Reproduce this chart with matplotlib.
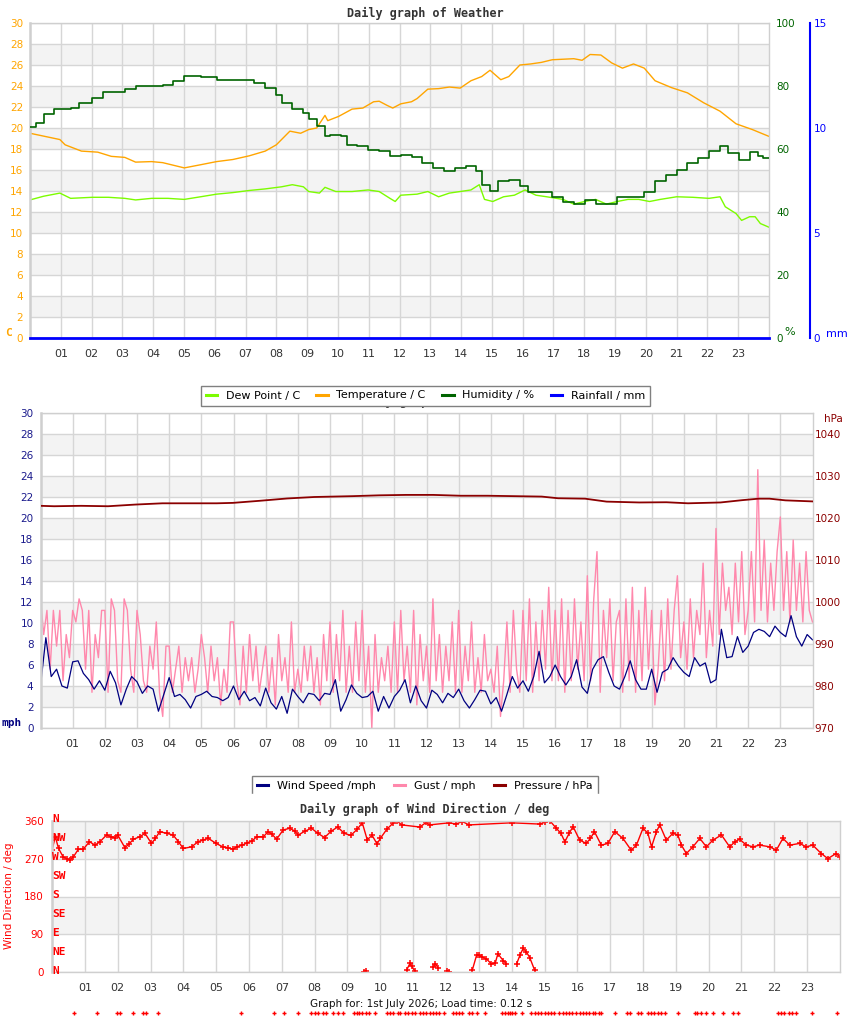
import numpy as np
import matplotlib
matplotlib.use('Agg')
import matplotlib.pyplot as plt
from matplotlib.lines import Line2D
from matplotlib.patches import Rectangle

W, H = 850, 1017
GRID = '#d6d6d6'
BAND = '#f3f3f3'
FRAME = '#cfcfcf'
MONO = 'DejaVu Sans Mono'

HOURS = list(range(1, 24))
HOUR_LABELS = ['%02d' % h for h in HOURS]

# ---------------- weather panel ----------------
temp_hours = [0, 0.97, 1.14, 1.67, 2.2, 2.64, 3.08, 3.43, 3.95, 4.31, 5.01, 5.54, 6.06, 6.59,
              7.12, 7.64, 8.0, 8.44, 8.79, 9.05, 9.31, 9.58, 9.67, 10.02, 10.46, 10.81, 11.16,
              11.34, 11.6, 11.78, 12.04, 12.39, 12.57, 12.92, 13.27, 13.62, 13.97, 14.32, 14.67,
              14.94, 15.29, 15.55, 15.91, 16.26, 16.61, 16.96, 17.31, 17.66, 17.93, 18.19, 18.54,
              18.89, 19.24, 19.6, 19.95, 20.3, 20.83, 21.35, 21.88, 22.41, 22.93, 23.46, 24.0]
temp_c = [19.5, 18.9, 18.4, 17.8, 17.7, 17.3, 17.2, 16.75, 16.8, 16.7, 16.2, 16.5, 16.8, 17.0,
          17.35, 17.8, 18.4, 19.7, 19.5, 19.85, 20.0, 21.2, 20.7, 21.1, 21.8, 21.9, 22.5,
          22.55, 22.15, 21.9, 22.3, 22.5, 22.8, 23.7, 23.75, 23.9, 23.8, 24.5, 24.9,
          25.5, 24.6, 24.9, 26.0, 26.1, 26.25, 26.5, 26.55, 26.6, 26.45, 27.0, 26.95,
          26.2, 25.7, 26.1, 25.7, 24.5, 23.85, 23.35, 22.4, 21.6, 20.4, 19.85, 19.2]

dew_hours = [0, 0.44, 0.97, 1.32, 2.02, 2.55, 3.08, 3.43, 3.95, 4.48, 5.01, 5.54, 6.06, 6.59,
             7.12, 7.64, 8.17, 8.52, 8.88, 9.05, 9.4, 9.58, 9.93, 10.46, 10.98, 11.34, 11.69,
             11.86, 12.04, 12.57, 12.92, 13.27, 13.62, 13.97, 14.32, 14.59, 14.76, 15.03, 15.38,
             15.73, 16.08, 16.43, 16.78, 17.31, 17.66, 18.01, 18.37, 18.72, 19.07, 19.42, 19.77,
             20.12, 20.47, 21.0, 21.53, 22.05, 22.41, 22.58, 22.93, 23.11, 23.37, 23.55, 23.72, 24.0]
dew_c = [13.15, 13.5, 13.8, 13.3, 13.4, 13.4, 13.3, 13.15, 13.3, 13.3, 13.2, 13.45, 13.7, 13.85,
         14.05, 14.2, 14.4, 14.6, 14.4, 13.95, 13.8, 14.35, 13.95, 13.95, 14.1, 13.95, 13.3,
         13.0, 13.6, 13.7, 13.95, 13.45, 13.8, 13.95, 14.1, 14.6, 13.2, 13.0, 13.45,
         13.6, 14.1, 13.6, 13.45, 13.2, 12.75, 13.0, 13.2, 12.75, 13.0, 13.2, 13.2,
         13.0, 13.2, 13.45, 13.4, 13.3, 13.45, 12.5, 11.85, 11.2, 11.55, 11.55, 10.9, 10.55]

hum_hours = [0, 0.18, 0.44, 0.79, 1.32, 1.58, 2.02, 2.37, 3.08, 3.43, 4.31, 4.66, 5.01, 5.54,
             6.06, 7.03, 7.29, 7.64, 7.99, 8.17, 8.52, 8.88, 9.05, 9.31, 9.58, 9.75, 10.11,
             10.28, 10.63, 10.98, 11.34, 11.69, 12.04, 12.39, 12.74, 13.09, 13.45, 13.8, 14.15,
             14.5, 14.68, 14.94, 15.2, 15.56, 15.91, 16.17, 16.61, 16.96, 17.31, 17.66, 18.01,
             18.37, 18.72, 19.07, 19.6, 19.95, 20.3, 20.65, 21.0, 21.35, 21.71, 22.05, 22.41,
             22.67, 23.02, 23.37, 23.64, 23.81, 24.0]
hum_pct = [67.0, 68.3, 71.0, 72.6, 73.1, 74.7, 76.3, 78.1, 79.2, 80.0, 80.2, 81.6, 83.2, 82.7,
           82.0, 82.0, 81.1, 79.5, 77.3, 74.7, 72.6, 71.5, 69.4, 67.2, 64.0, 64.6, 64.0,
           61.4, 60.9, 59.8, 59.3, 57.7, 58.2, 57.5, 55.5, 53.9, 52.9, 53.9, 54.5,
           52.9, 48.6, 46.8, 49.7, 50.0, 48.1, 46.2, 46.2, 44.9, 43.3, 42.6, 43.8,
           42.6, 42.6, 44.7, 44.9, 46.2, 49.7, 51.8, 53.4, 55.5, 57.1, 59.3, 60.9,
           58.7, 56.6, 58.9, 57.7, 57.0, 57.0]

rain_hours = [0, 24]
rain_mm = [0, 0]

# ---------------- wind panel ----------------
# wind speed, one row per hour, 10 minute readings
wind_mph = [
    4.0, 8.6, 4.9, 5.6, 4.0, 3.8,
    6.3, 6.4, 5.2, 4.6, 3.7, 4.5,
    3.6, 5.4, 4.3, 2.2, 3.7, 4.9,
    4.4, 3.3, 4.0, 3.7, 1.6, 3.2,
    4.8, 3.0, 3.2, 2.7, 1.9, 3.0,
    3.2, 3.5, 3.0, 2.9, 2.6, 2.9,
    4.0, 2.7, 3.5, 2.6, 2.9, 2.1,
    3.8, 2.4, 1.8, 3.0, 1.4, 3.7,
    3.0, 2.4, 3.3, 3.2, 2.6, 3.3,
    3.2, 4.6, 1.6, 2.7, 4.1, 3.3,
    2.9, 3.0, 3.5, 1.6, 3.0, 1.9,
    3.0, 3.6, 4.6, 2.4, 4.0, 2.6,
    1.9, 3.6, 3.2, 2.4, 3.3, 2.9,
    3.7, 2.6, 1.9, 2.7, 3.6, 3.5,
    2.3, 2.9, 1.6, 3.2, 4.9, 3.8,
    4.5, 3.5, 4.9, 7.3, 4.3, 4.9,
    6.0, 4.9, 4.1, 4.9, 6.5, 3.9,
    3.3, 5.6, 6.5, 6.8, 5.3, 4.0,
    3.7, 4.9, 6.4, 4.6, 3.7, 3.7,
    5.6, 3.4, 5.3, 5.6, 6.7, 5.9,
    5.3, 4.9, 6.7, 5.9, 6.2, 4.3,
    4.6, 9.4, 6.7, 6.8, 8.7, 7.2,
    7.8, 9.1, 9.4, 9.2, 8.7, 9.7,
    9.1, 8.7, 10.7, 8.7, 7.8, 8.9,
    8.4,
]

# gusts, one row per hour, 6 minute readings
gust_mph = [
    12.3, 8.9, 11.2, 5.6, 11.2, 7.8, 11.2, 4.5, 8.9, 6.7,
    11.2, 10.1, 12.3, 11.2, 5.6, 11.2, 3.4, 8.9, 6.7, 11.2,
    11.2, 3.4, 12.3, 11.2, 4.5, 3.4, 12.3, 11.2, 5.6, 3.4,
    11.2, 8.9, 4.5, 3.4, 7.8, 5.6, 10.1, 3.4, 1.1, 7.8,
    7.8, 3.4, 5.6, 7.8, 3.4, 6.7, 4.5, 6.7, 3.4, 5.6,
    8.9, 6.7, 3.4, 7.8, 4.5, 6.7, 2.2, 5.6, 3.4, 10.1,
    10.1, 4.5, 2.2, 7.8, 3.4, 8.9, 4.5, 7.8, 3.4, 5.6,
    7.8, 3.4, 6.7, 2.2, 8.9, 4.5, 6.7, 3.4, 10.1, 3.4,
    5.6, 3.4, 7.8, 4.5, 7.8, 3.4, 6.7, 2.2, 8.9, 4.5,
    10.1, 3.4, 8.9, 4.5, 11.2, 3.4, 7.8, 3.4, 10.1, 4.5,
    11.2, 3.4, 7.8, 0.0, 8.9, 3.4, 6.7, 4.5, 7.8, 3.4,
    10.1, 3.4, 11.2, 4.5, 7.8, 3.4, 11.2, 2.2, 8.9, 4.5,
    7.8, 3.4, 12.3, 4.5, 8.9, 3.4, 7.8, 4.5, 10.1, 3.4,
    11.2, 3.4, 7.8, 4.5, 10.1, 3.4, 6.7, 3.4, 8.9, 4.5,
    5.6, 3.4, 7.8, 1.1, 4.5, 10.1, 3.4, 11.2, 5.6, 3.4,
    11.2, 4.5, 12.3, 3.4, 10.1, 4.5, 11.2, 5.6, 13.4, 4.5,
    11.2, 4.5, 12.3, 3.4, 11.2, 4.5, 12.3, 5.6, 10.1, 4.5,
    14.5, 4.5, 12.3, 16.8, 3.4, 11.2, 6.7, 12.3, 4.5, 10.1,
    11.2, 3.4, 12.3, 4.5, 13.4, 3.4, 11.2, 4.5, 13.4, 5.6,
    11.2, 2.2, 5.6, 11.2, 4.5, 12.3, 5.6, 11.2, 14.5, 6.7,
    10.1, 5.6, 12.3, 6.7, 11.2, 8.9, 15.7, 6.7, 11.2, 7.8,
    19.0, 8.9, 15.7, 11.2, 13.4, 8.9, 15.7, 10.1, 16.8, 8.9,
    11.2, 16.8, 10.1, 24.6, 11.2, 17.9, 10.1, 15.7, 11.2, 16.8,
    20.1, 11.2, 16.8, 10.1, 17.9, 11.2, 15.7, 10.1, 16.8, 11.2,
    10.1,
]

pres_hours = [0, 0.42, 1.26, 2.1, 2.95, 3.79, 4.63, 5.48, 5.98, 6.82, 7.67, 8.51, 9.69, 10.53,
              11.37, 12.21, 13.06, 13.9, 14.74, 15.58, 16.09, 16.93, 17.6, 18.61, 19.46, 20.13,
              21.14, 21.82, 22.32, 22.66, 23.16, 24.0]
pres_hpa = [1022.9, 1022.8, 1022.9, 1022.8, 1023.2, 1023.5, 1023.5, 1023.5, 1023.6, 1024.1,
            1024.65, 1025.0, 1025.2, 1025.4, 1025.5, 1025.5, 1025.3, 1025.3, 1025.2, 1025.1,
            1024.7, 1024.6, 1023.9, 1023.7, 1023.75, 1023.5, 1023.7, 1024.25, 1024.6, 1024.6,
            1024.2, 1023.95]

# ---------------- wind direction panel ----------------
dir_hours = [0.0, 0.1, 0.2, 0.34, 0.45, 0.55, 0.65, 0.8, 0.95, 1.14, 1.31, 1.46, 1.66, 1.8,
             1.92, 2.0, 2.22, 2.35, 2.48, 2.68, 2.83, 3.03, 3.15, 3.28, 3.49, 3.69, 3.85, 4.0,
             4.25, 4.45, 4.6, 4.76, 5.0, 5.2, 5.35, 5.52, 5.62, 5.8, 5.93, 6.1, 6.23, 6.44,
             6.58, 6.7, 6.84, 7.04, 7.24, 7.4, 7.5, 7.7, 7.9, 8.1, 8.3, 8.5, 8.7, 8.9, 9.1,
             9.3, 9.45, 9.6, 9.75, 9.9, 10.0, 10.2, 10.4, 10.5, 10.65, 11.2, 11.4, 11.5, 12.1,
             12.3, 12.5, 12.7, 14.0, 14.85, 15.0, 15.16, 15.36, 15.5, 15.62, 15.75, 15.87,
             16.07, 16.27, 16.4, 16.52, 16.73, 16.93, 17.14, 17.39, 17.64, 17.8, 18.0, 18.15,
             18.26, 18.41, 18.51, 18.71, 18.91, 19.06, 19.17, 19.32, 19.52, 19.73, 19.93,
             20.13, 20.39, 20.64, 20.8, 20.94, 21.15, 21.35, 21.55, 21.86, 22.06, 22.26,
             22.47, 22.77, 22.97, 23.17, 23.43, 23.63, 23.88, 24.0]
dir_deg = [290, 322, 294, 274, 270, 267, 274, 292, 292, 310, 302, 310, 326, 322,
           320, 326, 296, 305, 316, 322, 330, 306, 318, 334, 330, 326, 310, 294,
           298, 310, 314, 318, 306, 298, 296, 292, 298, 302, 307, 312, 322, 322,
           334, 328, 316, 338, 342, 335, 326, 335, 342, 330, 320, 335, 345, 330, 325,
           340, 355, 315, 325, 305, 318, 340, 355, 360, 350, 345, 356, 350, 355,
           352, 358, 350, 355, 352, 356, 360, 342, 330, 310, 330, 346,
           314, 306, 318, 334, 302, 306, 334, 318, 290, 302, 342, 330,
           298, 334, 350, 314, 330, 326, 302, 282, 298, 318, 298,
           314, 326, 298, 310, 316, 302, 298, 302, 298, 290, 318,
           302, 306, 298, 302, 282, 270, 282, 274]

# readings just past north, wrapped round to the bottom of the scale
wrap_hours = [9.5, 9.55, np.nan, 10.8, 10.9, 10.95, 11.05, np.nan, 11.6, 11.68, 11.76, np.nan,
              12.03, 12.08, np.nan, 12.8, 12.93, 13.0, 13.1, 13.23, 13.38, 13.5, 13.58, 13.74,
              13.84, np.nan, 14.15, 14.25, 14.35, 14.45, 14.55, 14.7]
wrap_deg = [0, 3, np.nan, 5, 21, 15, 3, np.nan, 12, 20, 10, np.nan,
            2, 0, np.nan, 5, 40, 41, 36, 32, 20, 22, 44, 28,
            20, np.nan, 20, 40, 57, 48, 35, 5]

# calm readings, drawn below the chart
calm_hours = [0.67, 1.38, 1.97, 2.07, 2.46, 2.78, 2.85, 3.24, 5.77, 6.76, 7.07, 7.5, 7.9, 8.0,
              8.1, 8.25, 8.35, 8.55, 8.7, 8.85, 9.2, 9.3, 9.35, 9.45, 9.55, 9.65, 9.85, 10.2,
              10.3, 10.4, 10.55, 10.6, 10.75, 10.85, 10.95, 11.05, 11.2, 11.3, 11.4, 11.5, 11.6,
              11.7, 11.8, 11.95, 12.2, 12.3, 12.4, 12.5, 12.7, 12.8, 12.95, 13.2, 13.7, 13.8,
              13.9, 13.95, 14.0, 14.1, 14.3, 14.6, 14.7, 14.8, 14.9, 15.0, 15.1, 15.2, 15.3,
              15.45, 15.55, 15.65, 15.75, 15.85, 15.97, 16.07, 16.17, 16.27, 16.37, 16.47,
              16.55, 16.65, 16.73, 17.14, 17.5, 17.6, 17.85, 17.95, 18.15, 18.25, 18.35, 18.45,
              18.55, 18.66, 19.07, 19.58, 19.65, 19.78, 19.93, 20.13, 20.43, 20.73, 20.88,
              22.1, 22.2, 22.3, 22.45, 22.55, 22.67, 23.15, 23.9]
CALM_DEG = -97

COMPASS = ['N', 'NE', 'E', 'SE', 'S', 'SW', 'W', 'NW', 'N']


def rect(x0, y0, x1, y1):
    return [x0 / W, 1 - y1 / H, (x1 - x0) / W, (y1 - y0) / H]


def fx(x):
    return x / W


def fy(y):
    return 1 - y / H


def base_axes(box, ymax, ystep, bands, color, ypad):
    ax = fig.add_axes(rect(*box))
    ax.set_xlim(0, 24)
    ax.set_ylim(0, ymax)
    for lo, hi in bands:
        ax.axhspan(lo, hi, color=BAND, lw=0, zorder=0)
    ax.set_xticks(HOURS, HOUR_LABELS)
    ax.set_yticks(np.arange(0, ymax + 1, ystep))
    ax.grid(True, color=GRID, lw=1)
    ax.set_axisbelow(True)
    ax.tick_params(length=0, labelsize=7.5)
    ax.tick_params(axis='x', pad=8, labelcolor='#333333', labelsize=8)
    ax.tick_params(axis='y', labelcolor=color, pad=ypad)
    for s in ax.spines.values():
        s.set_color(FRAME)
        s.set_linewidth(1)
    ax.spines['left'].set_linewidth(1.8)
    return ax


def twin(ax, lo, hi, ticks, color, pad):
    t = ax.twinx()
    t.set_ylim(lo, hi)
    t.set_yticks(ticks)
    t.tick_params(length=0, labelsize=7.5, labelcolor=color, pad=pad)
    for s in t.spines.values():
        s.set_visible(False)
    return t


fig = plt.figure(figsize=(W / 100, H / 100), dpi=100)

# ---- panel 1: weather ----
ax1 = base_axes((30, 23, 769, 338), 30, 2, [(lo, lo + 2) for lo in range(2, 30, 4)], '#ffa500', 5)
ax_h = twin(ax1, 0, 100, range(0, 101, 20), '#006400', 5)
ax_r = twin(ax1, 0, 15, [0, 5, 10, 15], '#0000ff', 2.5)
ax_r.spines['right'].set_visible(True)
ax_r.spines['right'].set_position(('outward', 29.5))   # points, = 41 px
ax_r.spines['right'].set_color('#0000ff')
ax_r.spines['right'].set_linewidth(1.5)

ax_h.plot(hum_hours, hum_pct, color='#006400', lw=1.2, drawstyle='steps-post')
ax1.plot(temp_hours, temp_c, color='#ffa500', lw=1)
ax1.plot(dew_hours, dew_c, color='#7cfc00', lw=1)
ax_r.plot(rain_hours, rain_mm, color='#0000ff', lw=2, clip_on=False)

fig.text(fx(425), fy(13), 'Daily graph of Weather', ha='center', va='center',
         family=MONO, weight='bold', fontsize=8.5, color='#333333')
fig.text(fx(5), fy(333), 'C', ha='left', va='center', family=MONO, weight='bold',
         fontsize=8, color='#ffa500')
fig.text(fx(790), fy(332), '%', ha='center', va='center', fontsize=8, color='#006400')
fig.text(fx(837), fy(334), 'mm', ha='center', va='center', fontsize=8, color='#0000ff')

# hidden title of the wind chart, mostly covered by the legend
fig.text(fx(425), fy(405.5), 'Daily graph of Wind', ha='center', va='baseline',
         family=MONO, weight='bold', fontsize=8.5, color='#333333', zorder=1)

leg_kw = dict(loc='center', fontsize=8, frameon=True, fancybox=False, edgecolor='#808080',
              handlelength=1.0, handletextpad=0.8, borderpad=0.45, framealpha=1)
h1 = [Line2D([], [], color=c, lw=2.2) for c in ['#7cfc00', '#ffa500', '#006400', '#0000ff']]
leg1 = fig.legend(h1, ['Dew Point / C', 'Temperature / C', 'Humidity / %', 'Rainfall / mm'],
                  bbox_to_anchor=(fx(425.5), fy(395.5)), ncol=4, columnspacing=1.5, **leg_kw)
leg1.get_frame().set_linewidth(1)
leg1.set_zorder(5)

# ---- panel 2: wind speed ----
ax2 = base_axes((40.5, 413, 812.5, 728), 30, 2, [(lo, lo + 2) for lo in range(2, 30, 4)], '#1a1a8c', 5)
ax_p = twin(ax2, 970, 1045, range(970, 1041, 10), '#8b0000', 1.5)

wind_t = np.arange(len(wind_mph)) / 6.0
gust_t = np.arange(len(gust_mph)) / 10.0
ax2.plot(gust_t, gust_mph, color='#ff88ac', lw=1.0)
ax2.plot(wind_t, wind_mph, color='#000080', lw=0.9)
ax_p.plot(pres_hours, pres_hpa, color='#8b0000', lw=1.3)

fig.text(fx(833), fy(419), 'hPa', ha='center', va='center', fontsize=7.5, color='#8b0000')
fig.text(fx(12), fy(723), 'mph', ha='center', va='center', family=MONO, weight='bold',
         fontsize=8, color='#000080')

h2 = [Line2D([], [], color=c, lw=2.2) for c in ['#000080', '#ff88ac', '#8b0000']]
leg2 = fig.legend(h2, ['Wind Speed /mph', 'Gust / mph', 'Pressure / hPa'],
                  bbox_to_anchor=(fx(425), fy(786)), ncol=3, columnspacing=1.65, **leg_kw)
leg2.get_frame().set_linewidth(1)

# ---- panel 3: wind direction ----
ax3 = base_axes((52, 820.7, 840, 972.3), 360, 90, [(90, 180), (270, 360)], '#ff0000', 6)
ax3.plot(dir_hours, dir_deg, color='#ff0000', lw=1, marker='+', ms=4, mew=1.1)
ax3.plot(wrap_hours, wrap_deg, color='#ff0000', lw=1, marker='+', ms=4, mew=1.1)
ax3.plot(calm_hours, [CALM_DEG] * len(calm_hours), ls='none', color='#ff0000', marker='+',
         ms=3.5, mew=1, clip_on=False)
for i, name in enumerate(COMPASS):
    ax3.text(0.0, i * 45 + 4, name, transform=ax3.get_yaxis_transform(), ha='left',
             va='center', family=MONO, weight='bold', fontsize=8, color='#ff0000')
fig.text(fx(9), fy(896), 'Wind Direction / deg', rotation=90, ha='center', va='center',
         fontsize=7.5, color='#ff0000')

fig.text(fx(425), fy(809), 'Daily graph of Wind Direction / deg', ha='center', va='center',
         family=MONO, weight='bold', fontsize=8.5, color='#333333', zorder=6)
fig.text(fx(421), fy(1004), 'Graph for: 1st July 2026; Load time: 0.12 s', ha='center',
         va='center', fontsize=7.5, color='#111111')

# the wind legend box is cut off at the bottom
fig.canvas.draw()
bb = leg2.get_window_extent().transformed(fig.transFigure.inverted())
fig.add_artist(Rectangle((bb.x0 - 0.002, bb.y0 - 0.002), bb.width + 0.004, 0.004,
                         transform=fig.transFigure, color='white', zorder=10))

fig.savefig('out.png', dpi=100)
